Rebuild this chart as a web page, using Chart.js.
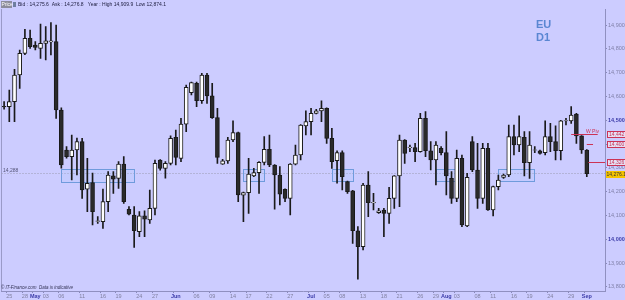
<!DOCTYPE html>
<html><head><meta charset="utf-8">
<script src="https://cdn.jsdelivr.net/npm/chart.js@4.4.0/dist/chart.umd.min.js"></script>
<style>html,body{margin:0;padding:0;background:#ccccff;}#wrap{width:625px;height:300px;position:relative;}canvas{display:block;}</style>
</head><body><div id="wrap"><canvas id="c" width="625" height="300"></canvas></div>
<script>
// Categories (daily bars, Sun-Fri), plus 3 empty slots on the right
const dates = [
"04-24","04-25","04-26","04-27","04-28","04-29",
"05-01","05-02","05-03","05-04","05-05","05-06",
"05-08","05-09","05-10","05-11","05-12","05-13",
"05-15","05-16","05-17","05-18","05-19","05-20",
"05-22","05-23","05-24","05-25","05-26","05-27",
"05-29","05-30","05-31","06-01","06-02","06-03",
"06-05","06-06","06-07","06-08","06-09","06-10",
"06-12","06-13","06-14","06-15","06-16","06-17",
"06-19","06-20","06-21","06-22","06-23","06-24",
"06-26","06-27","06-28","06-29","06-30","07-01",
"07-03","07-04","07-05","07-06","07-07","07-08",
"07-10","07-11","07-12","07-13","07-14","07-15",
"07-17","07-18","07-19","07-20","07-21","07-22",
"07-24","07-25","07-26","07-27","07-28","07-29",
"07-31","08-01","08-02","08-03","08-04","08-05",
"08-07","08-08","08-09","08-10","08-11","08-12",
"08-14","08-15","08-16","08-17","08-18","08-19",
"08-21","08-22","08-23","08-24","08-25","08-26",
"08-28","08-29","08-30","08-31","09-01"];
const futureSlots = ["+1","+2","+3"];

const open  = [14558,14557,14578,14690,14781,14844,14816,14802,14823,14829,14830,14543,14375,14347,14375,14410,14210,14238,14075,14074,14158,14266,14256,14316,14126,14102,14032,14098,14081,14130,14333,14298,14319,14428,14340,14484,14616,14655,14582,14690,14602,14511,14316,14329,14417,14448,14185,14196,14266,14280,14323,14378,14312,14270,14210,14172,14316,14354,14476,14494,14529,14539,14550,14424,14330,14364,14242,14204,14036,13969,14228,14153,14112,14123,14109,14172,14266,14417,14385,14385,14368,14508,14372,14333,14382,14364,14256,14172,14340,14056,14410,14291,14172,14382,14123,14221,14260,14270,14431,14396,14428,14322,14374,14371,14364,14431,14410,14372,14497,14497,14526,14434,14375];
const high  = [14578,14627,14714,14795,14882,14879,14830,14904,14893,14910,14900,14552,14389,14438,14425,14424,14340,14278,14095,14211,14284,14284,14326,14347,14137,14137,14116,14120,14207,14333,14335,14326,14434,14459,14508,14648,14660,14660,14697,14697,14655,14550,14336,14428,14498,14450,14198,14340,14298,14326,14431,14438,14314,14305,14212,14318,14396,14482,14540,14550,14546,14582,14552,14466,14372,14372,14244,14206,14053,14235,14284,14193,14130,14130,14218,14268,14438,14419,14396,14403,14529,14536,14410,14410,14389,14452,14284,14375,14354,14277,14431,14403,14403,14403,14223,14270,14274,14480,14480,14518,14452,14452,14389,14375,14498,14487,14476,14500,14508,14557,14529,14436,14377];
const low   = [14546,14494,14494,14634,14775,14802,14795,14760,14753,14774,14508,14299,14341,14249,14270,14172,14116,14060,14067,14046,14116,14193,14214,14151,14102,13966,14011,14011,14067,14102,14290,14257,14312,14312,14326,14452,14606,14557,14571,14571,14508,14319,14314,14319,14410,14158,14074,14109,14263,14193,14312,14305,14126,14144,14158,14102,14312,14333,14438,14438,14527,14494,14403,14298,14236,14207,14193,13983,13832,13955,14095,14123,14109,14011,14067,14130,14137,14319,14368,14326,14366,14347,14291,14228,14354,14186,14151,14158,14053,14053,14284,14130,14151,14121,14098,14207,14256,14263,14354,14368,14266,14256,14364,14358,14354,14368,14333,14333,14480,14487,14403,14361,14263];
const close = [14556,14578,14690,14781,14844,14809,14806,14823,14834,14834,14543,14312,14347,14375,14410,14207,14235,14116,14078,14158,14270,14253,14316,14158,14106,14036,14098,14084,14130,14319,14298,14319,14424,14344,14484,14638,14658,14582,14690,14602,14511,14344,14329,14417,14448,14186,14196,14274,14280,14323,14378,14312,14270,14190,14172,14316,14354,14480,14494,14529,14539,14550,14424,14326,14364,14263,14200,14036,13969,14228,14154,14155,14120,14109,14172,14266,14417,14361,14387,14368,14508,14372,14333,14396,14364,14266,14172,14340,14060,14260,14291,14172,14382,14123,14221,14249,14270,14431,14396,14431,14322,14396,14376,14361,14431,14410,14372,14498,14499,14522,14434,14375,14276.1];

// Axis ticks
const yTicks = [13800,13900,14000,14100,14200,14300,14400,14500,14600,14700,14800,14900];
const xTickDates = ["04-25","04-28","05-01","05-03","05-06","05-11","05-16","05-19","05-24","05-27","06-01","06-06","06-09","06-14","06-17","06-22","06-27","07-01","07-05","07-08","07-13","07-18","07-21","07-26","07-29","08-01","08-03","08-08","08-11","08-16","08-19","08-24","08-29","09-01"];
const xTickText  = ["25","28","May","03","06","11","16","19","24","27","Jun","06","09","14","17","22","27","Jul","05","08","13","18","21","26","29","Aug","03","08","11","16","19","24","29","Sep"];

// Support zones (bar index range, price range)
const zoneStart = [11,46,63,83,95];
const zoneEnd   = [25,50,67,87,102];
const zoneHigh  = [14295,14295,14295,14295,14295];
const zoneLow   = [14242,14245,14245,14245,14245];

// Levels
const priceLine = 14277;
const priceLineLabel = "14,288";
const pivotLevels = [14442,14400,14326];
const pivotFrom   = [109,112,112.3];
const pivotTo     = [114.1,113.2,115.6];
const lastPrice = 14276.1;
const bid = "14,275.6", ask = "14,276.8", yearHigh = "14,909.9", yearLow = "12,874.1";

const labels = dates.concat(futureSlots);
const tickMap = {};
xTickDates.forEach((d,i)=>{ tickMap[d]=xTickText[i]; });
const FONT = "'Liberation Sans', Arial, sans-serif";

const bodies = dates.map((d,i)=>[open[i], close[i]]);
const wicks  = dates.map((d,i)=>[low[i], high[i]]);
const up = dates.map((d,i)=>close[i] >= open[i]);

const overlay = {
  id:'overlay',
  beforeDraw(chart){
    const c = chart.ctx;
    c.save();
    c.fillStyle = '#ccccff';
    c.fillRect(0,0,chart.width,chart.height);
    const a = chart.chartArea, x = chart.scales.x, y = chart.scales.y;
    c.strokeStyle = '#9a9ac8'; c.lineWidth = 1;
    c.beginPath(); c.moveTo(1.5, a.top); c.lineTo(1.5, a.bottom); c.stroke();
    c.strokeStyle = '#9a9ab0'; c.setLineDash([1,2]);
    const py = Math.round(y.getPixelForValue(priceLine))+0.5;
    c.beginPath(); c.moveTo(a.left, py); c.lineTo(a.right, py); c.stroke();
    c.setLineDash([]);
    c.fillStyle = '#555577'; c.font = '5px ' + FONT; c.textBaseline = 'bottom';
    c.fillText(priceLineLabel, 3, py);
    for (let i=0;i<zoneStart.length;i++){
      const x0 = x.getPixelForValue(zoneStart[i]), x1 = x.getPixelForValue(zoneEnd[i]);
      const y0 = y.getPixelForValue(zoneHigh[i]), y1 = y.getPixelForValue(zoneLow[i]);
      c.fillStyle = 'rgba(170,200,255,0.25)';
      c.fillRect(x0, y0, x1-x0, y1-y0);
      c.strokeStyle = '#6f9bdc'; c.lineWidth = 1;
      c.strokeRect(Math.round(x0)+0.5, Math.round(y0)+0.5, Math.round(x1-x0), Math.round(y1-y0));
    }
    c.fillStyle = '#5a86d2'; c.font = 'bold 11px ' + FONT; c.textBaseline = 'alphabetic';
    c.fillText('EU', 536, 28); c.fillText('D1', 536, 41);
    c.restore();
  },
  afterDraw(chart){
    const c = chart.ctx, a = chart.chartArea, x = chart.scales.x, y = chart.scales.y;
    c.save();
    c.strokeStyle = '#cc3355'; c.lineWidth = 1;
    for (let i=0;i<pivotLevels.length;i++){
      const yy = Math.round(y.getPixelForValue(pivotLevels[i]))+0.5;
      const x0 = x.getPixelForValue(pivotFrom[i]), x1 = Math.min(a.right, x.getPixelForValue(pivotTo[i]));
      c.beginPath(); c.moveTo(x0, yy); c.lineTo(x1, yy); c.stroke();
    }
    c.fillStyle = '#cc3355'; c.font = '5px ' + FONT; c.textBaseline = 'bottom';
    c.fillText('W Piv', 586, Math.round(y.getPixelForValue(pivotLevels[0])));
    c.font = '5px ' + FONT; c.textBaseline = 'middle';
    for (let i=0;i<pivotLevels.length;i++){
      const yy = Math.round(y.getPixelForValue(pivotLevels[i]));
      const txt = pivotLevels[i].toLocaleString('en-US');
      const w = Math.ceil(c.measureText(txt).width) + 3;
      c.fillStyle = '#e4e0f4'; c.fillRect(607, yy-3, w, 7);
      c.strokeStyle = '#cc3355'; c.strokeRect(607.5, yy-2.5, w-1, 6);
      c.fillStyle = '#cc3355';
      c.fillText(txt, 609, yy+0.5);
    }
    const ly = Math.round(y.getPixelForValue(lastPrice));
    const lt = lastPrice.toLocaleString('en-US',{minimumFractionDigits:1});
    c.fillStyle = '#f5c400'; c.fillRect(606, ly-3, 19, 7);
    c.fillStyle = '#333333';
    c.fillText(lt, 606.5, ly+0.5);
    c.fillStyle = '#8c8c9c'; c.fillRect(1, 1, 11, 7);
    c.fillStyle = '#ffffff'; c.font = '5px ' + FONT; c.textBaseline = 'middle';
    c.fillText('Price', 1.5, 4.8);
    c.fillStyle = '#6f7fa0'; c.fillRect(13, 2, 3, 5);
    c.fillStyle = '#222244'; c.font = '5px ' + FONT;
    c.fillText('Bid : ' + bid + '  Ask : ' + ask + '   Year : High ' + yearHigh + '  Low ' + yearLow, 18, 4.8);
    c.fillStyle = '#333355'; c.font = 'italic 4.5px ' + FONT; c.textBaseline = 'bottom';
    c.fillText('© IT-Finance.com  Data is indicative', 1, 290);
    c.restore();
  }
};

new Chart(document.getElementById('c'), {
  type: 'bar',
  data: {
    labels: labels,
    datasets: [
      { label:'body', data: bodies, order: 0, grouped:false, barThickness: 4,
        backgroundColor: up.map(u => u ? '#ffffff' : '#2a2a2a'),
        borderColor: '#1a1a1a', borderWidth: 1, borderSkipped: false },
      { label:'wick', data: wicks, order: 1, grouped:false, barThickness: 1,
        backgroundColor: '#1a1a1a', borderWidth: 0 }
    ]
  },
  options: {
    responsive: false, animation: false, devicePixelRatio: 1,
    layout: { padding: { left: 1.5, top: 9, right: 0, bottom: 0 } },
    plugins: { legend: { display: false }, tooltip: { enabled: false } },
    scales: {
      x: {
        afterFit: s => { s.height = 9; },
        grid: { drawOnChartArea: false, drawTicks: true, tickLength: 2,
                color: ctx => (ctx.tick && tickMap[labels[ctx.index]]) ? '#8888bb' : 'rgba(0,0,0,0)' },
        border: { display: true, color: '#9090c0' },
        ticks: { autoSkip: false, maxRotation: 0, minRotation: 0, padding: 0,
          font: ctx => { const t = tickMap[labels[ctx.index]]; return { family: FONT, size: 5.5, weight: (t && /[A-Za-z]/.test(t)) ? 'bold' : 'normal' }; },
          color: ctx => { const t = tickMap[labels[ctx.index]]; return (t && /[A-Za-z]/.test(t)) ? '#3b3ba8' : '#8080a0'; },
          callback: (v, i) => tickMap[labels[i]] || '' }
      },
      y: {
        position: 'right', min: 13782.8, max: 14967.2,
        afterFit: s => { s.width = 20; },
        afterBuildTicks: s => { s.ticks = yTicks.map(v => ({ value: v })); },
        grid: { drawOnChartArea: false, drawTicks: true, tickLength: 2, color: '#8888bb' },
        border: { display: true, color: '#9090c0' },
        ticks: { padding: 1,
          font: ctx => ({ family: FONT, size: 5.5, weight: (ctx.tick && ctx.tick.value % 500 === 0) ? 'bold' : 'normal' }),
          color: ctx => (ctx.tick && ctx.tick.value % 500 === 0) ? '#3b3ba8' : '#8080a8',
          callback: v => Number(v).toLocaleString('en-US') }
      }
    }
  },
  plugins: [overlay]
});
</script></body></html>
